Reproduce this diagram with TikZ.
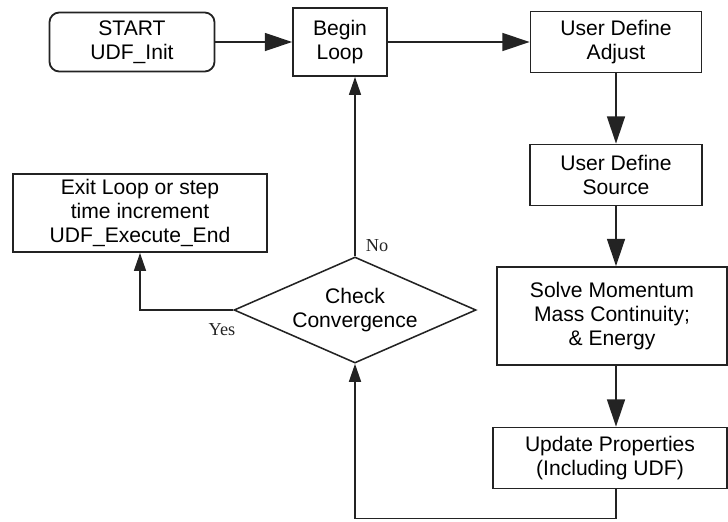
\documentclass[tikz,border=0pt]{standalone}
\usepackage{fontspec}
\setmainfont{Liberation Sans}
\newfontfamily\answerfont{Liberation Serif}
\usetikzlibrary{positioning, arrows.meta, shapes.geometric}
\definecolor{flowline}{RGB}{35,35,35}
\tikzset{
    procbox/.style={rectangle, draw=flowline, line width=1.3pt, align=center, font=\fontsize{15}{17}\selectfont, inner sep=1pt},
    startbox/.style={procbox, rounded corners=7pt},
    decision/.style={diamond, draw=flowline, line width=1.1pt, align=center, font=\fontsize{15}{17}\selectfont, inner sep=0pt, aspect=2.28, minimum width=6.05cm, minimum height=2.65cm},
    arrbig/.style={-{Triangle[length=0.68cm, width=0.45cm]}, line width=1.1pt, color=flowline},
    arrsmall/.style={-{Triangle[length=0.45cm, width=0.3cm]}, line width=1.1pt, color=flowline},
    answer/.style={font=\answerfont\fontsize{13}{15}\selectfont, text=flowline}
}
\begin{document}
\begin{tikzpicture}[x=0.025cm, y=-0.025cm]
    \useasboundingbox (0,0) rectangle (728,521);
    \node[startbox, minimum width=4.125cm, minimum height=1.475cm] (start) at (132,42) {START\\UDF\_Init};
    \node[procbox, minimum width=2.35cm, minimum height=1.7cm] (loop) at (340,42) {Begin\\Loop};
    \node[procbox, minimum width=4.275cm, minimum height=1.525cm] (adjust) at (616,42) {User Define\\Adjust};
    \node[procbox, minimum width=4.3cm, minimum height=1.525cm] (source) at (616,175) {User Define\\Source};
    \node[procbox, minimum width=5.75cm, minimum height=2.45cm] (solve) at (612,316) {Solve Momentum\\Mass Continuity;\\\& Energy};
    \node[procbox, minimum width=5.85cm, minimum height=1.525cm] (update) at (610,458) {Update Properties\\(Including UDF)};
    \node[decision] (check) at (355,310) {Check\\Convergence};
    \node[procbox, minimum width=6.35cm, minimum height=1.95cm] (exit) at (140,213) {Exit Loop or step\\time increment\\UDF\_Execute\_End};
    \node[answer] (no) at (377,246) {No};
    \node[answer] (yes) at (222,330) {Yes};
    \draw[arrbig] (start) -- (loop);
    \draw[arrbig] (loop) -- (adjust);
    \draw[arrbig] (adjust) -- (source);
    \draw[arrbig] (source.south) -- (source.south |- solve.north);
    \draw[arrbig] (solve.south -| source.south) -- (source.south |- update.north);
    \draw[arrsmall] (source.south |- update.south) -- ++(0,29) -| (check.south);
    \draw[arrsmall] (check.north) -- (check.north |- loop.south);
    \draw[arrsmall] (check.west) -| (exit.south);
\end{tikzpicture}
\end{document}
